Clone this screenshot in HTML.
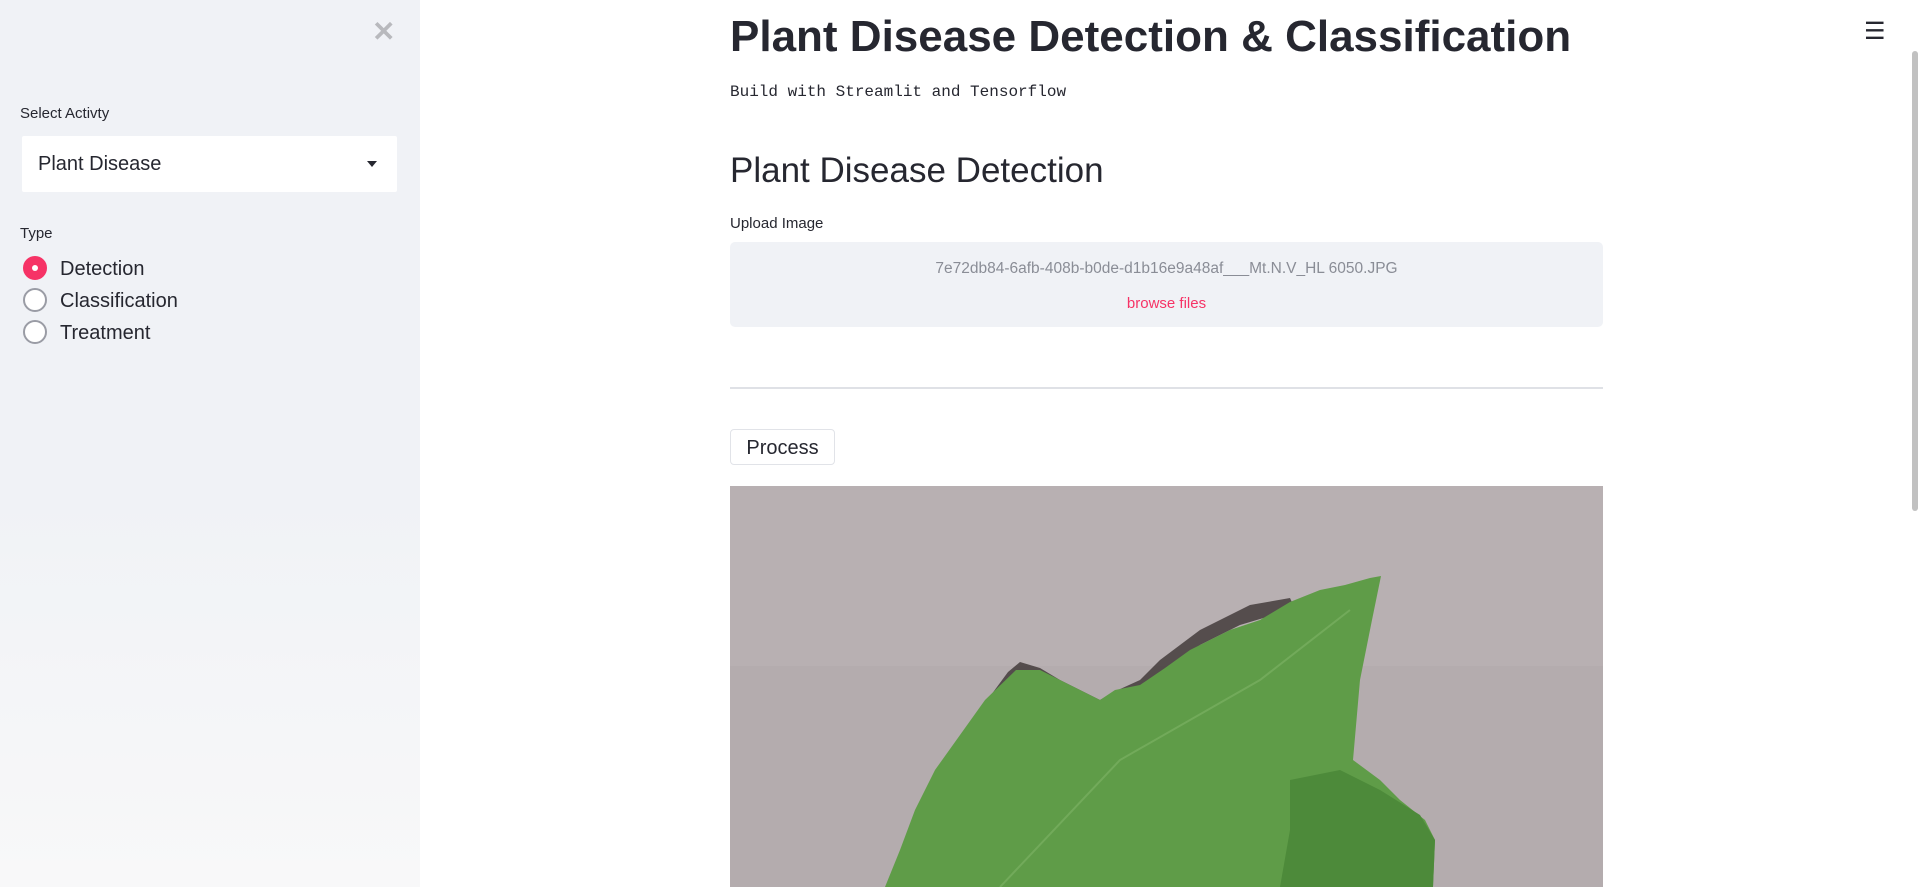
<!DOCTYPE html>
<html><head><meta charset="utf-8"><style>
*{box-sizing:border-box;margin:0;padding:0}
body{width:1920px;height:887px;overflow:hidden;background:#fff;font-family:"Liberation Sans",sans-serif;color:#262730;position:relative}
#sidebar{position:absolute;left:0;top:0;width:420px;height:887px;background:linear-gradient(180deg,#f0f2f6 0%,#f0f2f6 55%,#f8f8f9 100%)}
.abs{position:absolute}
.radio{position:absolute;left:23px;width:24px;height:24px;border-radius:50%;border:2px solid #9a9ca5;background:#fff}
.radio.on{background:#f63366;border-color:#f63366}
.radio.on::after{content:"";position:absolute;left:7px;top:7px;width:6px;height:6px;border-radius:50%;background:#fff}
.rlabel{position:absolute;left:60px;font-size:20px;color:#262730}
</style></head><body>
<div id="sidebar">
 <div class="abs" style="left:372px;top:15px;font-size:28px;color:#b8b9bd;font-weight:bold">✕</div>
 <div class="abs" style="left:20px;top:105px;font-size:15px">Select Activty</div>
 <div class="abs" style="left:22px;top:136px;width:375px;height:56px;background:#fff;border-radius:2px">
  <span style="position:absolute;left:16px;top:17px;font-size:20px">Plant Disease</span>
  <span style="position:absolute;right:20px;top:25px;width:0;height:0;border-left:5px solid transparent;border-right:5px solid transparent;border-top:6px solid #262730"></span>
 </div>
 <div class="abs" style="left:20px;top:225px;font-size:15px">Type</div>
 <div class="radio on" style="top:256px"></div>
 <div class="rlabel" style="top:258px">Detection</div>
 <div class="radio" style="top:288px"></div>
 <div class="rlabel" style="top:290px">Classification</div>
 <div class="radio" style="top:320px"></div>
 <div class="rlabel" style="top:322px">Treatment</div>
</div>
<div class="abs" style="left:1864px;top:17px;font-size:24px;color:#262730">☰</div>
<div class="abs" style="left:1912px;top:51px;width:6px;height:460px;background:#c1c1c1;border-radius:3px"></div>
<h1 class="abs" style="left:730px;top:12px;font-size:44px;font-weight:bold;color:#262730;white-space:nowrap">Plant Disease Detection &amp; Classification</h1>
<div class="abs" style="left:730px;top:83px;font-family:'Liberation Mono',monospace;font-size:16px;color:#262730">Build with Streamlit and Tensorflow</div>
<h2 class="abs" style="left:730px;top:151px;font-size:35px;font-weight:normal;color:#262730">Plant Disease Detection</h2>
<div class="abs" style="left:730px;top:215px;font-size:15px">Upload Image</div>
<div class="abs" style="left:730px;top:242px;width:873px;height:85px;background:#f0f2f6;border-radius:5px;text-align:center">
 <div style="position:absolute;left:0;right:0;top:18px;font-size:15.5px;color:#8a8d96">7e72db84-6afb-408b-b0de-d1b16e9a48af___Mt.N.V_HL 6050.JPG</div>
 <div style="position:absolute;left:0;right:0;top:53px;font-size:15px;color:#f63366">browse files</div>
</div>
<div class="abs" style="left:730px;top:387px;width:873px;height:2px;background:#dfe1e6"></div>
<div class="abs" style="left:730px;top:429px;width:105px;height:36px;border:1px solid #e1e3e8;border-radius:4px;background:#fff;font-size:20px;text-align:center;line-height:36px">Process</div>
<svg class="abs" style="left:730px;top:486px" width="873" height="401">
 <rect width="873" height="401" fill="#b4acae"/>
 <rect width="873" height="180" fill="#bab3b4" opacity="0.6"/>
 <g transform="translate(-730,-486)">
  <polygon fill="#3c3533" opacity="0.8" points="1008,672 1020,662 1040,668 1060,680 1080,690 1100,700 1118,690 1140,680 1160,660 1180,645 1200,630 1230,615 1250,605 1290,598 1300,620 1290,610 1240,625 1200,645 1160,680 1120,705 1060,700 1010,690 990,720 950,780 920,830 905,887 895,887 915,820 950,760 980,710"/>
  <polygon fill="#5f9c48" points="1016,670 1040,670 1070,685 1100,700 1115,690 1140,685 1165,668 1190,650 1230,630 1260,620 1290,602 1320,590 1345,585 1370,578 1381,576 1372,620 1360,680 1353,760 1380,780 1400,800 1425,820 1435,840 1433,887 885,887 900,850 915,810 935,770 960,735 985,700"/>
  <polygon fill="#4d8a3a" points="1290,780 1340,770 1380,790 1420,815 1435,840 1433,887 1280,887 1290,830"/>
  <polyline fill="none" stroke="#7fb468" stroke-width="2" opacity="0.6" points="1000,887 1120,760 1260,680 1350,610"/>
 </g>
</svg>
</body></html>
